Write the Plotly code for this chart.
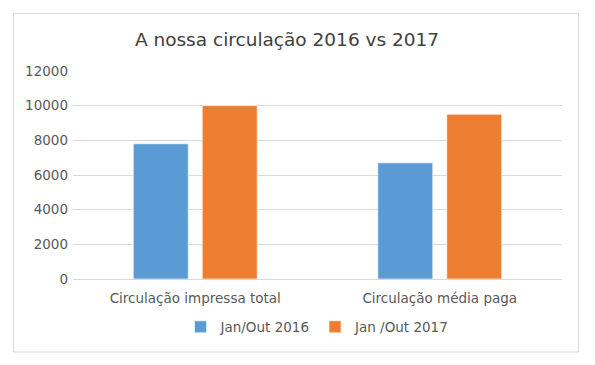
import plotly.graph_objects as go

categories = ["Circulação impressa total", "Circulação média paga"]
series_names = ["Jan/Out 2016", "Jan /Out 2017"]
values_2016 = [7800, 6700]
values_2017 = [10000, 9500]
colors = ["#5B9BD5", "#ED7D31"]
y_ticks = [0, 2000, 4000, 6000, 8000, 10000, 12000]
y_tick_labels = ["0", "2000", "4000", "6000", "8000", "10000", "12000"]

OFF = 8  # page body margin
W, H = 595 - OFF, 365 - OFF
# plot area in page pixels: x 73..562, y 71..279
L, T = 73 - OFF, 71 - OFF
R = W - (562 - OFF)
B = H - (279 - OFF)
pw, ph = W - L - R, H - T - B

def px_x(x):
    return (x - 73) / pw

def px_y(y):
    return (279 - y) / ph

fig = go.Figure()
for name, vals, c in zip(series_names, [values_2016, values_2017], colors):
    fig.add_trace(go.Bar(x=categories, y=vals, name=name,
                         marker=dict(color=c, line=dict(color="rgba(255,255,255,0.6)", width=1))))

font_family = "'DejaVu Sans', Verdana, sans-serif"
fig.update_layout(
    width=W, height=H,
    margin=dict(l=L, r=R, t=T, b=B),
    paper_bgcolor="white", plot_bgcolor="white",
    barmode="group", bargap=0.436, bargroupgap=0.203,
    font=dict(family=font_family, color="#595959", size=13.5),
    title=dict(text="A nossa circulação 2016 vs 2017", x=(287 - OFF) / W, xanchor="center",
               y=1 - (40 - OFF) / H, yanchor="middle", yref="container",
               font=dict(size=18.5, color="#404040", family=font_family)),
    showlegend=True,
    legend=dict(orientation="h", x=0.5, xanchor="center", y=px_y(327), yanchor="middle",
                font=dict(size=13.5, color="#595959"), itemwidth=30, traceorder="normal"),
    xaxis=dict(showgrid=False, showline=False, ticks="", tickfont=dict(size=13.5),
               ticklabelstandoff=9),
    yaxis=dict(range=[0, 12000], tickvals=y_ticks, ticktext=y_tick_labels, showgrid=True,
               gridcolor="#d9d9d9", gridwidth=1, zeroline=True, zerolinecolor="#d9d9d9",
               zerolinewidth=1, showline=False, ticks="", tickfont=dict(size=13.5),
               ticklabelstandoff=4),
    shapes=[dict(type="rect", xref="paper", yref="paper",
                 x0=px_x(13.5), x1=px_x(578.5), y0=px_y(352), y1=px_y(13.5),
                 line=dict(color="#d9d9d9", width=1), fillcolor="rgba(0,0,0,0)", layer="below")],
)

fig.write_html("out.html")
